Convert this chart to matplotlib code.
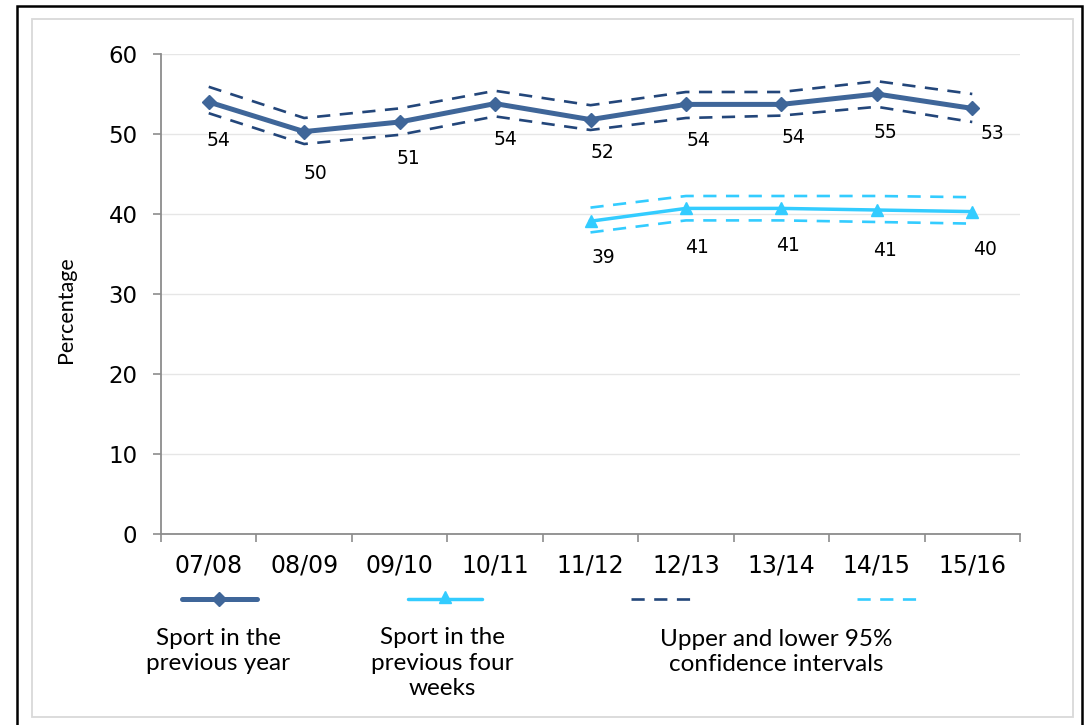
import matplotlib
matplotlib.use("Agg")
import matplotlib.pyplot as plt
import numpy as np
from matplotlib.lines import Line2D
from matplotlib.patches import Rectangle

# data
years = ["07/08", "08/09", "09/10", "10/11", "11/12", "12/13", "13/14", "14/15", "15/16"]
year_sport = [54.0, 50.3, 51.5, 53.8, 51.8, 53.7, 53.7, 55.0, 53.2]
year_upper = [55.9, 52.0, 53.2, 55.4, 53.6, 55.25, 55.25, 56.6, 55.0]
year_lower = [52.6, 48.75, 49.9, 52.2, 50.5, 52.0, 52.3, 53.4, 51.5]
year_labels = ["54", "50", "51", "54", "52", "54", "54", "55", "53"]

weeks_sport = [np.nan, np.nan, np.nan, np.nan, 39.1, 40.7, 40.7, 40.5, 40.3]
weeks_upper = [np.nan, np.nan, np.nan, np.nan, 40.8, 42.25, 42.25, 42.25, 42.1]
weeks_lower = [np.nan, np.nan, np.nan, np.nan, 37.7, 39.2, 39.2, 39.0, 38.8]
weeks_labels = [None, None, None, None, "39", "41", "41", "41", "40"]

# label offsets in pixels (as placed in the original)
year_offsets = [(10, -38), (11, -42), (9, -36), (10, -36), (12, -33), (13, -36), (12, -33), (9, -39), (20, -25)]
weeks_offsets = [None, None, None, None, (13, -36), (11, -39), (7, -37), (8, -40), (13, -38)]

DARK = "#3F6699"
DARK_DASH = "#23467A"
LIGHT = "#33CCFF"
W, H = 1086, 725

fig = plt.figure(figsize=(W / 100, H / 100), dpi=100)
ax = fig.add_axes([161 / W, 1 - 534 / H, (1020 - 161) / W, (534 - 54) / H])

x = np.arange(len(years))
dash = (5.0, 3.6)

ax.plot(x, year_upper, color=DARK_DASH, lw=1.9, dashes=dash, zorder=3)
ax.plot(x, year_lower, color=DARK_DASH, lw=1.9, dashes=dash, zorder=3)
ax.plot(x, year_sport, color=DARK, lw=3.6, marker="D", markersize=7, zorder=4)

ax.plot(x, weeks_upper, color=LIGHT, lw=1.9, dashes=dash, zorder=3)
ax.plot(x, weeks_lower, color=LIGHT, lw=1.9, dashes=dash, zorder=3)
ax.plot(x, weeks_sport, color=LIGHT, lw=2.5, marker="^", markersize=8.5, zorder=4)

for xi, yi, lab, off in zip(x, year_sport, year_labels, year_offsets):
    ax.annotate(lab, (xi, yi), xytext=off, textcoords="offset pixels",
                ha="center", va="center", fontsize=13.5, family="DejaVu Sans")
for xi, yi, lab, off in zip(x, weeks_sport, weeks_labels, weeks_offsets):
    if lab is None:
        continue
    ax.annotate(lab, (xi, yi), xytext=off, textcoords="offset pixels",
                ha="center", va="center", fontsize=13.5, family="DejaVu Sans")

ax.set_xlim(-0.5, len(years) - 0.5)
ax.set_ylim(0, 60)
ax.set_yticks(range(0, 61, 10))
ax.set_xticks(x)
ax.set_xticklabels(years)
ax.set_xticks(np.arange(-0.5, len(years), 1.0), minor=True)
ax.tick_params(axis="x", which="major", length=0, pad=14, labelsize=17)
ax.tick_params(axis="x", which="minor", length=6, color="#8C8C8C", width=1.2)
ax.tick_params(axis="y", length=6, color="#8C8C8C", width=1.2, pad=11, labelsize=16.5)
ax.grid(axis="y", color="#E6E6E6", lw=1.0)
ax.set_axisbelow(True)
for side in ["top", "right"]:
    ax.spines[side].set_visible(False)
for side in ["left", "bottom"]:
    ax.spines[side].set_color("#8C8C8C")
    ax.spines[side].set_linewidth(1.3)

fig.text(66 / W, 1 - 310 / H, "Percentage", rotation=90, ha="center", va="center",
         fontsize=15.5, family="Lato")


# legend drawn by hand, sample line on top and text underneath
def px(xp, yp):
    return xp / W, 1 - yp / H


def sample(x0, x1, y, **kw):
    (a, b), (c, d) = px(x0, y), px(x1, y)
    fig.add_artist(Line2D([a, c], [b, d], transform=fig.transFigure, **kw))


sample(182, 257, 599, color=DARK, lw=3.6, solid_capstyle="round")
fig.add_artist(Line2D([px(219, 599)[0]], [px(219, 599)[1]], transform=fig.transFigure,
                      marker="D", color=DARK, markersize=7))
sample(408, 482, 599, color=LIGHT, lw=2.5, solid_capstyle="round")
fig.add_artist(Line2D([px(445, 597)[0]], [px(445, 597)[1]], transform=fig.transFigure,
                      marker="^", color=LIGHT, markersize=8.5))
sample(631, 693, 599, color=DARK_DASH, lw=1.9, dashes=dash)
sample(857, 917, 599, color=LIGHT, lw=1.9, dashes=dash)

legend_texts = [
    (218, 651, "Sport in the\nprevious year"),
    (442, 663, "Sport in the\nprevious four\nweeks"),
    (776, 652, "Upper and lower 95%\nconfidence intervals"),
]
for xp, yp, txt in legend_texts:
    fx, fy = px(xp, yp)
    fig.text(fx, fy, txt, ha="center", va="center", fontsize=17.5, family="Lato",
             linespacing=1.25)

# frames round the chart
fig.add_artist(Rectangle(px(32, 717), (1073 - 32) / W, (717 - 19) / H, transform=fig.transFigure,
                         fill=False, edgecolor="#D9D9D9", lw=1.3))
fig.add_artist(Rectangle(px(17, 740), (1082 - 17) / W, (740 - 6) / H, transform=fig.transFigure,
                         fill=False, edgecolor="black", lw=1.8))

fig.savefig("out.png", dpi=100)
